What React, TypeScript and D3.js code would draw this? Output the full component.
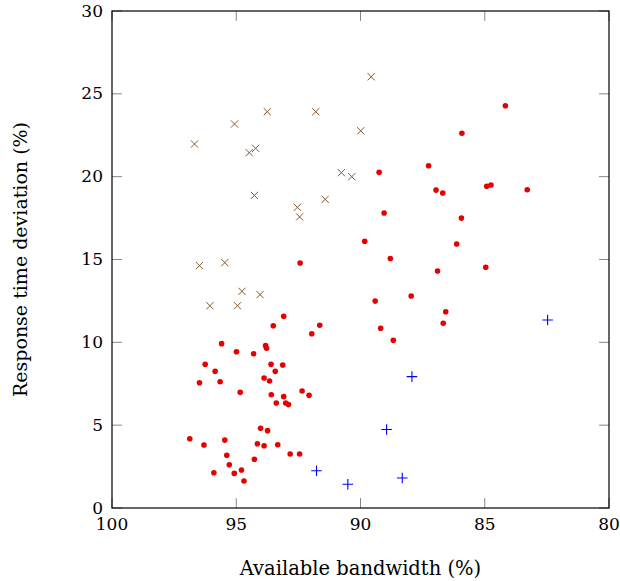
import React from "react";
import * as d3 from "d3";

const redX = [84.17, 85.92, 87.26, 89.25, 86.96, 86.69, 84.92, 84.75, 83.29, 89.05, 85.94, 89.83, 86.13, 88.80, 92.43, 86.90, 84.96, 89.41, 87.96, 86.57, 86.67, 89.19, 88.68, 93.09, 93.51, 91.64, 91.96, 95.59, 93.82, 93.78, 94.99, 94.30, 96.25, 93.60, 93.13, 95.85, 93.43, 96.48, 95.65, 93.88, 93.66, 94.84, 93.59, 93.09, 92.35, 92.07, 93.39, 93.01, 92.90, 94.02, 93.74, 96.87, 96.30, 95.46, 94.15, 93.88, 93.33, 92.83, 92.45, 95.38, 95.28, 94.27, 95.90, 95.08, 94.79, 94.69];
const redY = [24.28, 22.62, 20.66, 20.26, 19.19, 19.01, 19.42, 19.50, 19.21, 17.81, 17.50, 16.10, 15.94, 15.06, 14.79, 14.31, 14.53, 12.49, 12.80, 11.85, 11.15, 10.85, 10.12, 11.57, 11.00, 11.03, 10.52, 9.92, 9.80, 9.64, 9.43, 9.31, 8.67, 8.67, 8.63, 8.25, 8.25, 7.56, 7.62, 7.85, 7.67, 6.98, 6.84, 6.72, 7.06, 6.80, 6.34, 6.34, 6.24, 4.81, 4.67, 4.18, 3.80, 4.10, 3.88, 3.76, 3.82, 3.26, 3.26, 3.18, 2.61, 2.94, 2.13, 2.09, 2.29, 1.63];

const brownX = [89.57, 93.75, 91.80, 95.07, 89.99, 96.68, 94.22, 94.48, 90.77, 90.35, 94.27, 91.42, 92.54, 92.45, 96.48, 95.46, 94.77, 94.04, 96.06, 94.95];
const brownY = [26.03, 23.92, 23.92, 23.18, 22.77, 21.97, 21.71, 21.45, 20.24, 20.00, 18.87, 18.63, 18.15, 17.57, 14.63, 14.81, 13.08, 12.88, 12.21, 12.21];

const blueX = [91.77, 90.51, 88.95, 88.32, 87.93, 82.47];
const blueY = [2.25, 1.43, 4.74, 1.81, 7.93, 11.35];

const xTicks = [100, 95, 90, 85, 80];
const yTicks = [0, 5, 10, 15, 20, 25, 30];

const xLabel = "Available bandwidth (%)";
const yLabel = "Response time deviation (%)";

export default function App() {
  const W = 620, H = 581;
  const left = 112, right = 609, top = 11, bottom = 508;
  const x = d3.scaleLinear().domain([100, 80]).range([left, right]);
  const y = d3.scaleLinear().domain([0, 30]).range([bottom, top]);
  const font = "DejaVu Serif, Liberation Serif, serif";
  const tickLen = 10;
  const tickColor = "#888";

  return (
    <svg width={W} height={H} style={{ position: "absolute", left: 0, top: 0, fontFamily: font }}>
      <rect x={0} y={0} width={W} height={H} fill="#fff" />
      {xTicks.map((t) => (
        <g key={"xt" + t}>
          <line x1={x(t)} x2={x(t)} y1={bottom} y2={bottom - tickLen} stroke={tickColor} strokeWidth={1} />
          <line x1={x(t)} x2={x(t)} y1={top} y2={top + tickLen} stroke={tickColor} strokeWidth={1} />
          <text x={x(t)} y={bottom + 22} textAnchor="middle" fontSize={17} style={{ fontFamily: font }}>{t}</text>
        </g>
      ))}
      {yTicks.map((t) => (
        <g key={"yt" + t}>
          <line x1={left} x2={left + tickLen} y1={y(t)} y2={y(t)} stroke={tickColor} strokeWidth={1} />
          <line x1={right} x2={right - tickLen} y1={y(t)} y2={y(t)} stroke={tickColor} strokeWidth={1} />
          <text x={left - 9} y={y(t) + 5.5} textAnchor="end" fontSize={17} style={{ fontFamily: font }}>{t}</text>
        </g>
      ))}
      <rect x={left} y={top} width={right - left} height={bottom - top} fill="none" stroke="#000" strokeWidth={1.2} />
      {redX.map((v, i) => (
        <circle key={"r" + i} cx={x(v)} cy={y(redY[i])} r={2.8} fill="#e60000" />
      ))}
      {brownX.map((v, i) => {
        const cx = x(v), cy = y(brownY[i]), s = 3.6;
        return (
          <path key={"b" + i} d={`M${cx - s},${cy - s}L${cx + s},${cy + s}M${cx - s},${cy + s}L${cx + s},${cy - s}`} stroke="#85592d" strokeWidth={1} fill="none" />
        );
      })}
      {blueX.map((v, i) => {
        const cx = x(v), cy = y(blueY[i]), s = 5.3;
        return (
          <path key={"u" + i} d={`M${cx - s},${cy}L${cx + s},${cy}M${cx},${cy - s}L${cx},${cy + s}`} stroke="#0000ff" strokeWidth={1.1} fill="none" />
        );
      })}
      <text x={(left + right) / 2} y={575} textAnchor="middle" fontSize={19.5} style={{ fontFamily: font }}>{xLabel}</text>
      <text transform={`translate(27, ${(top + bottom) / 2}) rotate(-90)`} textAnchor="middle" fontSize={19} style={{ fontFamily: font }}>{yLabel}</text>
    </svg>
  );
}
